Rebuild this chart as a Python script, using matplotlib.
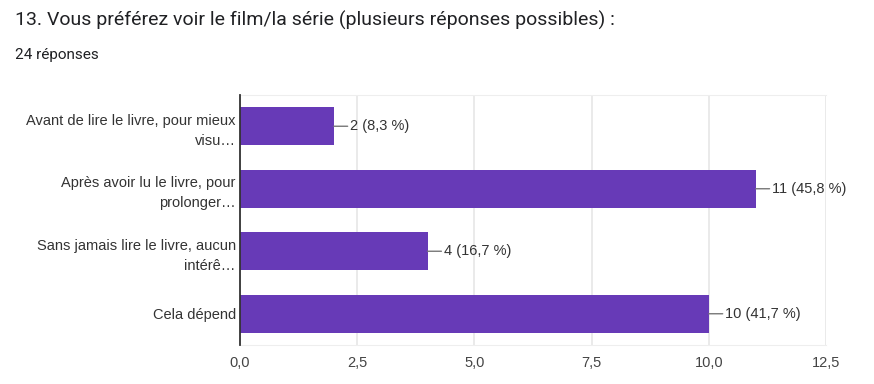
import matplotlib.pyplot as plt
from matplotlib.ticker import FuncFormatter

plt.rcParams['font.family'] = ['Liberation Sans', 'DejaVu Sans']

categories = ["Avant de lire le livre, pour mieux\nvisu…",
              "Après avoir lu le livre, pour\nprolonger…",
              "Sans jamais lire le livre, aucun\nintérê…",
              "Cela dépend"]
counts = [2, 11, 4, 10]
percents = ["8,3", "45,8", "16,7", "41,7"]
xticks = [0, 2.5, 5, 7.5, 10, 12.5]

purple = "#673ab7"
text_col = "#333333"

fig = plt.figure(figsize=(8.74, 3.84), dpi=100)
ax = fig.add_axes([240/874, 39/384, 586/874, 250/384])

ypos = list(range(len(categories)))
ax.barh(ypos, counts, height=0.61, color=purple, zorder=3)
ax.set_ylim(len(categories) - 0.5, -0.5)
ax.set_xlim(0, 12.5)
ax.set_xticks(xticks)
ax.xaxis.set_major_formatter(FuncFormatter(lambda v, p: f"{v:.1f}".replace(".", ",")))
ax.set_yticks(ypos)
ax.set_yticklabels(categories, fontsize=10.5, color=text_col, ha="right", linespacing=1.55)
ax.tick_params(axis="y", length=0, pad=3)
ax.tick_params(axis="x", length=0, pad=8, labelsize=10.5, labelcolor="#444444")
ax.grid(axis="x", color="#e6e6e6", linewidth=1.2, zorder=0)

for s in ["top", "bottom", "right"]:
    ax.spines[s].set_color("#eeeeee")
ax.spines["right"].set_visible(False)
ax.spines["left"].set_color("#333333")
ax.spines["left"].set_linewidth(1.3)
ax.spines["left"].set_zorder(4)

for y, c, p in zip(ypos, counts, percents):
    ax.annotate(f"{c} ({p} %)", xy=(c, y), xytext=(12, 0), textcoords="offset points",
                va="center", ha="left", fontsize=10.5, color=text_col,
                arrowprops=dict(arrowstyle="-", color="#777777", lw=1,
                                shrinkA=0, shrinkB=0))

fig.text(15/874, 1 - 20/384, "13. Vous préférez voir le film/la série (plusieurs réponses possibles) :",
         fontsize=14, family="Roboto", color="#202124", va="center", ha="left")
fig.text(15/874, 1 - 55/384, "24 réponses", fontsize=11, family="Roboto",
         color="#202124", va="center", ha="left")

fig.savefig("out.png", dpi=100)
